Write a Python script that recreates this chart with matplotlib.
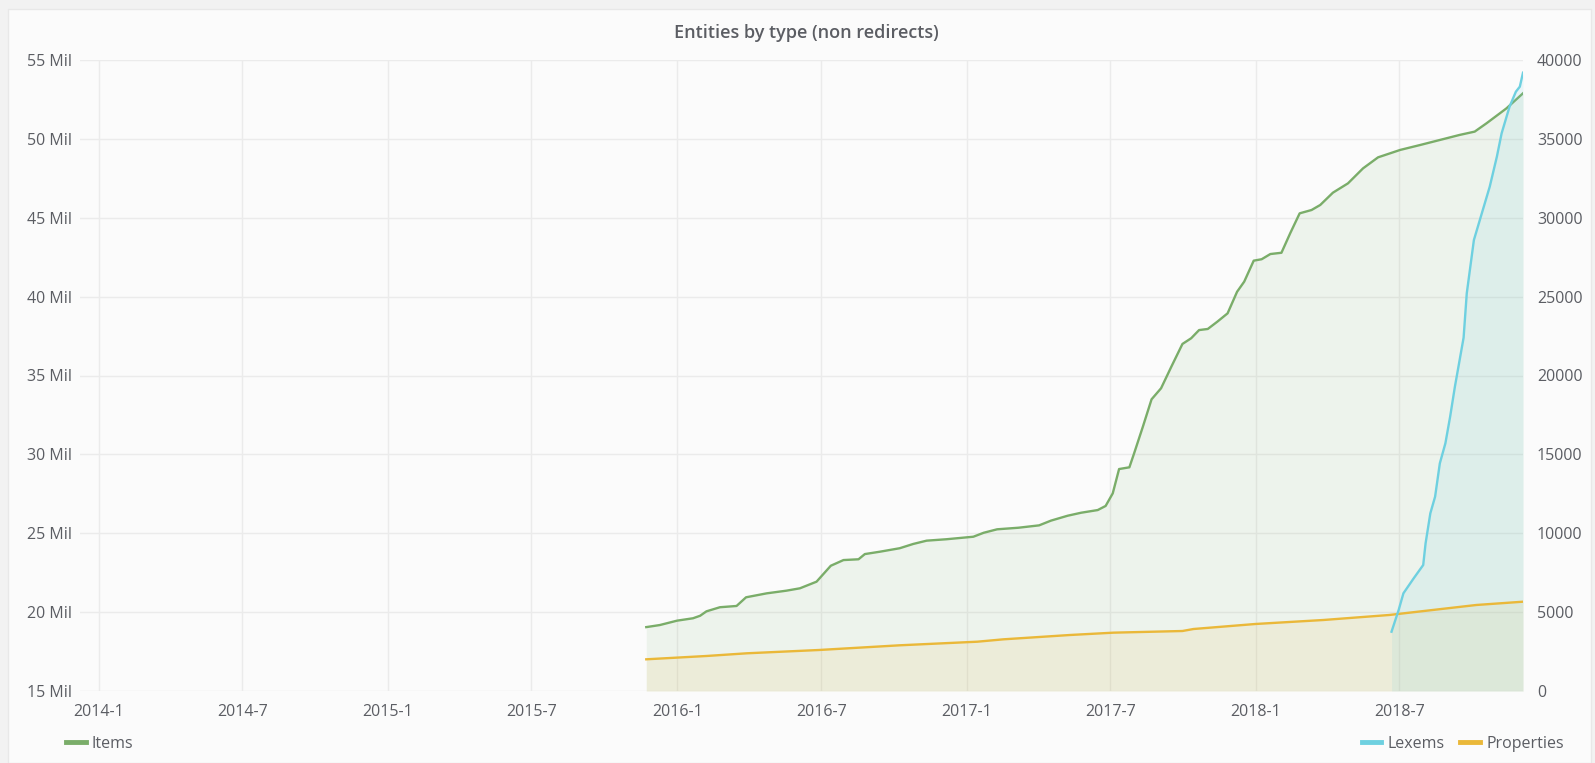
import pandas as pd
import matplotlib.pyplot as plt
import matplotlib.dates as mdates
from matplotlib.ticker import FuncFormatter, MultipleLocator
from matplotlib.patches import Rectangle
from matplotlib.lines import Line2D

plt.rcParams['font.family'] = ['Open Sans', 'DejaVu Sans']

# Items (left axis, millions)
items_dates = ['2015-11-23', '2015-12-10', '2016-01-01', '2016-01-21', '2016-01-30', '2016-02-07',
               '2016-02-24', '2016-03-16', '2016-03-28', '2016-04-23', '2016-05-18', '2016-06-04',
               '2016-06-25', '2016-07-13', '2016-07-29', '2016-08-17', '2016-08-25', '2016-09-13',
               '2016-10-08', '2016-10-25', '2016-11-11', '2016-12-06', '2017-01-09', '2017-01-22',
               '2017-02-08', '2017-03-07', '2017-04-02', '2017-04-17', '2017-05-08', '2017-05-25',
               '2017-06-15', '2017-06-25', '2017-07-04', '2017-07-12', '2017-07-25', '2017-07-31',
               '2017-08-11', '2017-08-22', '2017-09-03', '2017-09-16', '2017-09-30', '2017-10-11',
               '2017-10-21', '2017-11-01', '2017-11-13', '2017-11-26', '2017-12-08', '2017-12-17',
               '2017-12-29', '2018-01-08', '2018-01-19', '2018-02-02', '2018-02-13', '2018-02-25',
               '2018-03-12', '2018-03-23', '2018-04-08', '2018-04-27', '2018-05-16', '2018-06-04',
               '2018-07-02', '2018-07-27', '2018-08-21', '2018-09-15', '2018-10-04', '2018-10-19',
               '2018-11-13', '2018-12-04']
items_mil = [19.05, 19.18, 19.46, 19.61, 19.77, 20.05,
             20.31, 20.39, 20.94, 21.19, 21.36, 21.51,
             21.93, 22.94, 23.30, 23.35, 23.68, 23.83,
             24.05, 24.32, 24.53, 24.62, 24.78, 25.03,
             25.25, 25.35, 25.50, 25.80, 26.11, 26.30,
             26.47, 26.73, 27.53, 29.07, 29.18, 30.07,
             31.75, 33.49, 34.19, 35.56, 37.00, 37.36,
             37.88, 37.95, 38.41, 38.94, 40.31, 40.95,
             42.28, 42.37, 42.70, 42.78, 44.01, 45.28,
             45.49, 45.81, 46.59, 47.18, 48.13, 48.83,
             49.30, 49.61, 49.93, 50.25, 50.46, 50.99,
             51.93, 52.89]

# Properties (right axis)
prop_dates = ['2015-11-23', '2016-02-07', '2016-03-29', '2016-06-28', '2016-10-08', '2017-01-14',
              '2017-02-16', '2017-05-11', '2017-07-05', '2017-09-30', '2017-10-14', '2017-12-31',
              '2018-03-27', '2018-06-18', '2018-08-12', '2018-10-06', '2018-12-04']
prop_vals = [2009, 2219, 2390, 2599, 2897, 3125,
             3276, 3550, 3698, 3803, 3930, 4247,
             4501, 4818, 5135, 5452, 5661]

# Lexems (right axis)
lex_dates = ['2018-06-21', '2018-06-30', '2018-07-06', '2018-07-19', '2018-07-31', '2018-08-03',
             '2018-08-09', '2018-08-15', '2018-08-21', '2018-08-28', '2018-09-03', '2018-09-09',
             '2018-09-15', '2018-09-20', '2018-09-24', '2018-10-03', '2018-10-13', '2018-10-23',
             '2018-11-01', '2018-11-07', '2018-11-17', '2018-11-25', '2018-11-30', '2018-12-04']
lex_vals = [3759, 5135, 6193, 7144, 7987, 9363,
            11264, 12317, 14433, 15701, 17388, 19290,
            20983, 22400, 25210, 28589, 30280, 31970,
            33870, 35350, 37040, 37990, 38310, 39195]

items_d = pd.to_datetime(items_dates)
prop_d = pd.to_datetime(prop_dates)
lex_d = pd.to_datetime(lex_dates)
items_v = [v * 1e6 for v in items_mil]

GREEN = '#7aad69'
CYAN = '#6ed0e0'
ORANGE = '#eab839'
TXT = '#5b5d63'

W, H = 1595, 763
fig = plt.figure(figsize=(W / 100, H / 100), dpi=100, facecolor='#f2f2f2')
fig.patches.append(Rectangle((8 / W, 0), (1591 - 8) / W, 1 - 9 / H, transform=fig.transFigure,
                             facecolor='#fbfbfb', edgecolor='#e8e8e8', lw=1, zorder=-5))

ax = fig.add_axes([80 / W, 1 - 691 / H, (1523 - 80) / W, (691 - 60) / H])
ax.set_facecolor('none')
ax2 = ax.twinx()
ax2.patch.set_visible(False)

# Items
ax.fill_between(items_d, items_v, 15e6, color=GREEN, alpha=0.1, lw=0)
ax.plot(items_d, items_v, color=GREEN, lw=1.7)

# Properties and Lexems
ax2.fill_between(prop_d, prop_vals, 0, color=ORANGE, alpha=0.1, lw=0)
ax2.fill_between(lex_d, lex_vals, 0, color=CYAN, alpha=0.12, lw=0)
ax2.plot(prop_d, prop_vals, color=ORANGE, lw=1.7)
ax2.plot(lex_d, lex_vals, color=CYAN, lw=1.7)

ax.set_xlim(pd.Timestamp('2013-12-08'), pd.Timestamp('2018-12-04'))
ax.set_ylim(15e6, 55e6)
ax2.set_ylim(0, 40000)

ax.xaxis.set_major_locator(mdates.MonthLocator(bymonth=[1, 7]))
ax.xaxis.set_major_formatter(FuncFormatter(
    lambda x, pos: f"{mdates.num2date(x).year}-{mdates.num2date(x).month}"))
ax.yaxis.set_major_locator(MultipleLocator(5e6))
ax.yaxis.set_major_formatter(FuncFormatter(lambda v, pos: f"{v / 1e6:.0f} Mil"))
ax2.yaxis.set_major_locator(MultipleLocator(5000))
ax2.yaxis.set_major_formatter(FuncFormatter(lambda v, pos: f"{v:.0f}"))

ax.grid(True, color='#ebebeb', lw=1)
ax.set_axisbelow(True)
for a in (ax, ax2):
    for s in a.spines.values():
        s.set_visible(False)
ax.tick_params(axis='x', length=0, pad=9, labelsize=11.5, labelcolor=TXT)
ax.tick_params(axis='y', length=0, pad=6, labelsize=11.5, labelcolor=TXT)
ax2.tick_params(axis='y', length=0, pad=10, labelsize=11.5, labelcolor=TXT)

fig.text(806 / W, 1 - 33 / H, 'Entities by type (non redirects)', ha='center', va='center',
         fontsize=13, fontweight='semibold', color=TXT)

# Legends
leg1 = fig.legend([Line2D([], [], color=GREEN, lw=3.5)], ['Items'], loc='center left',
                  bbox_to_anchor=(52 / W, 1 - 744 / H), frameon=False, fontsize=11.5,
                  handlelength=1.2, handletextpad=0.4, labelcolor=TXT)
leg2 = fig.legend([Line2D([], [], color=CYAN, lw=3.5), Line2D([], [], color=ORANGE, lw=3.5)],
                  ['Lexems', 'Properties'], loc='center right', ncol=2,
                  bbox_to_anchor=(1578 / W, 1 - 744 / H), frameon=False, fontsize=11.5,
                  handlelength=1.2, handletextpad=0.4, columnspacing=1.0, labelcolor=TXT)

fig.savefig('out.png', dpi=100, facecolor=fig.get_facecolor())
